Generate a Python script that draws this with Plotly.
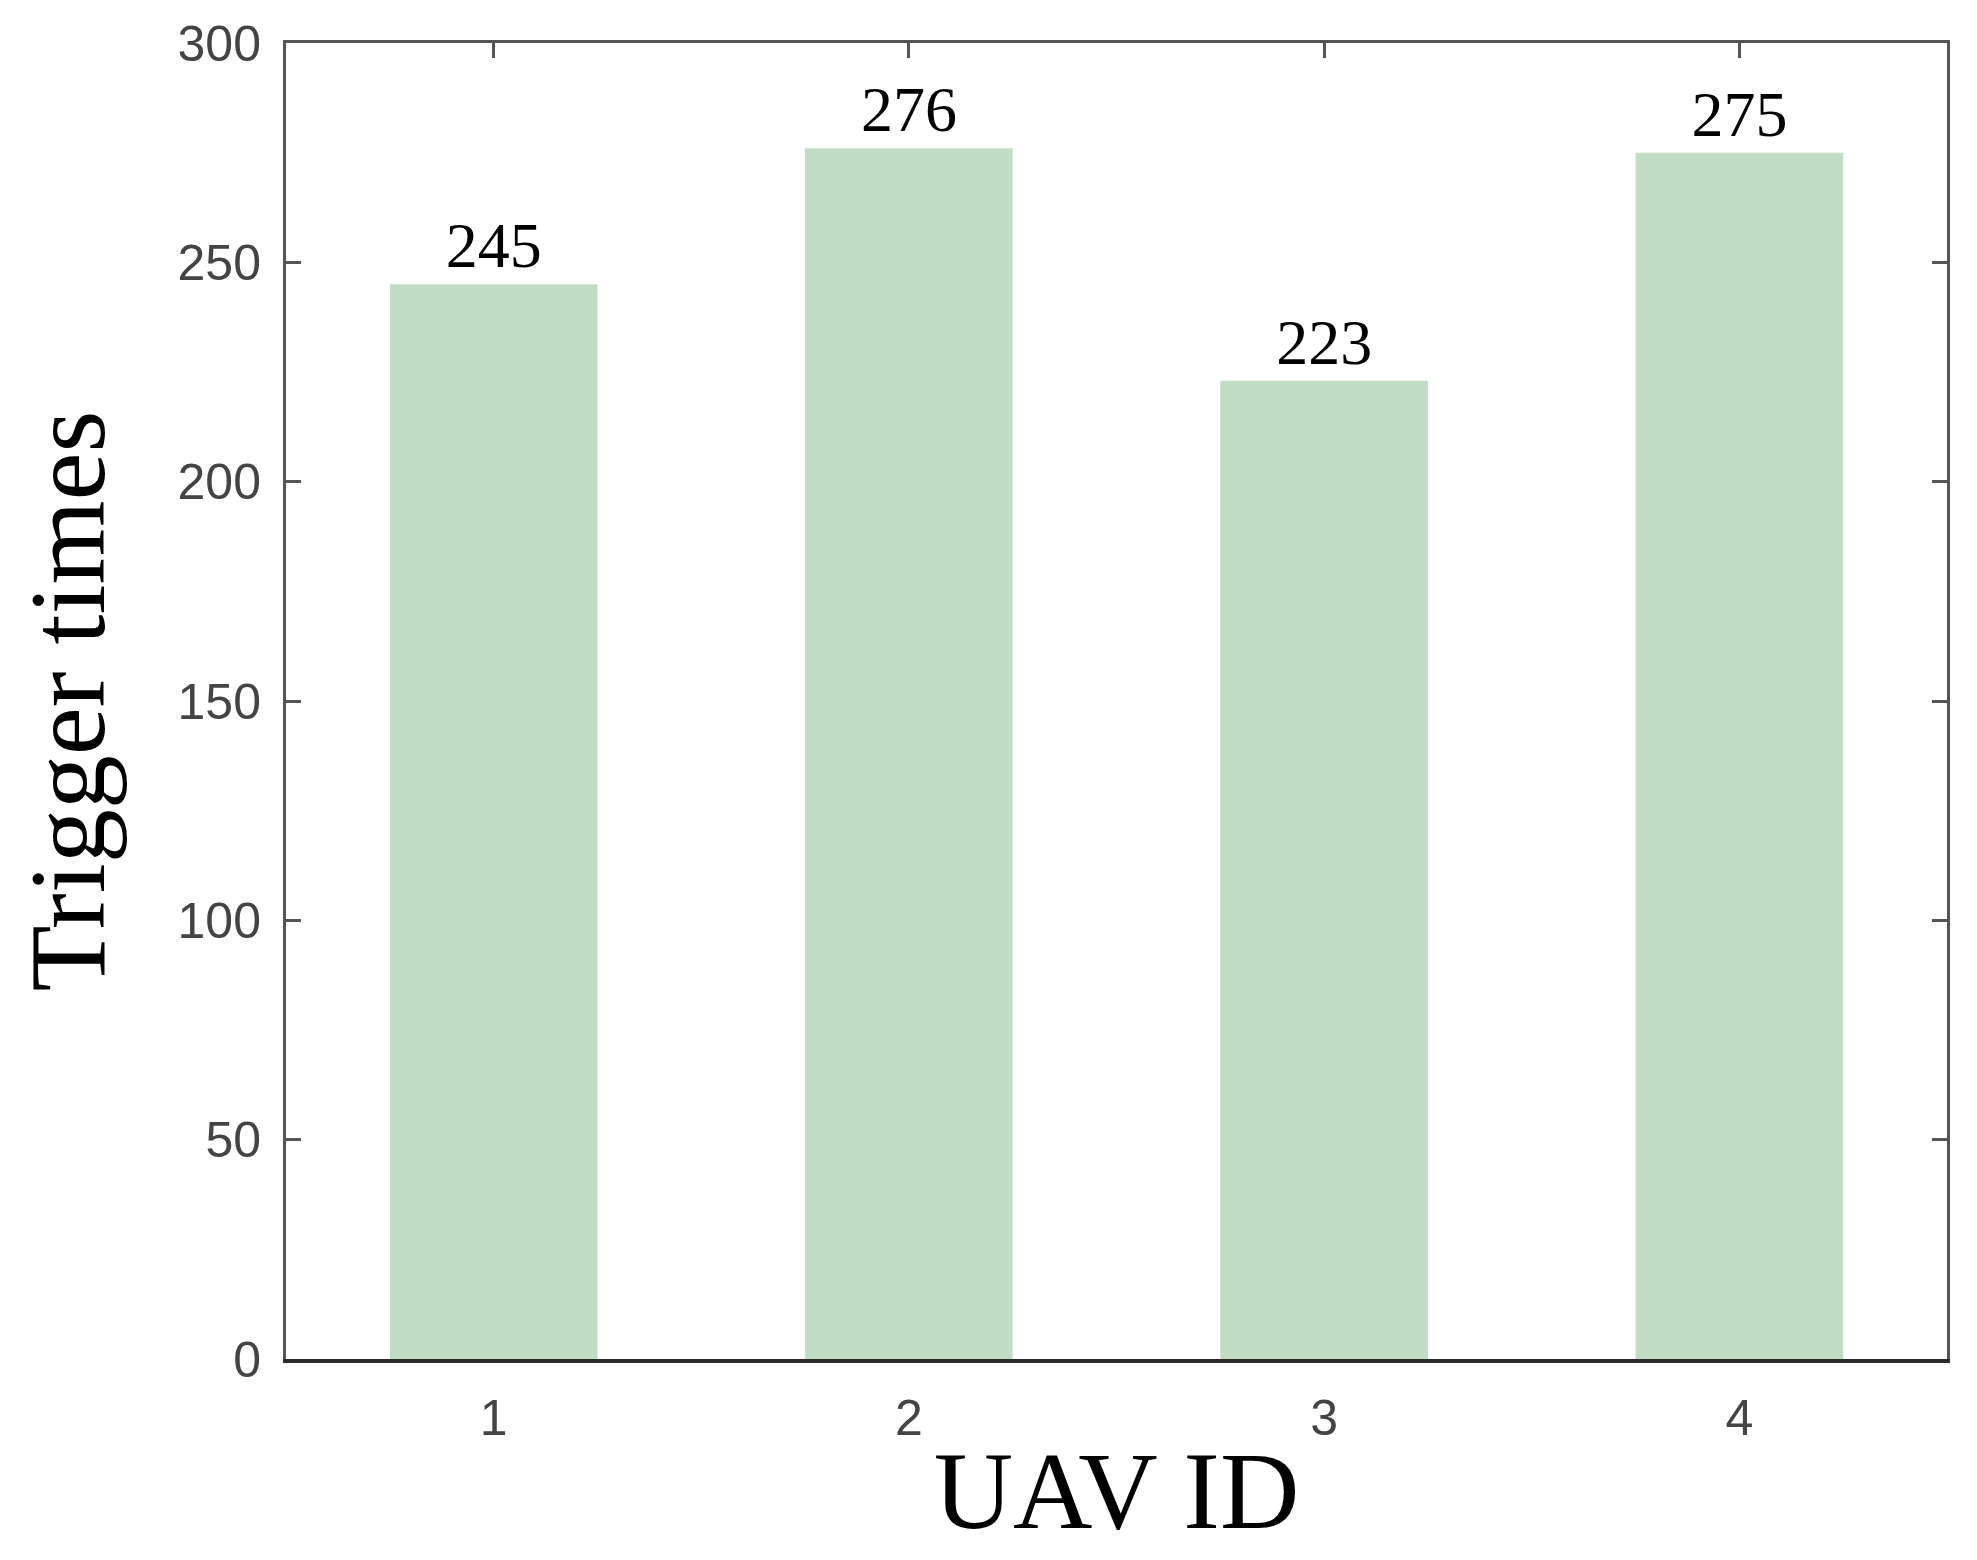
import plotly.graph_objects as go

uav_ids = [1, 2, 3, 4]
trigger_times = [245, 276, 223, 275]
y_ticks = [0, 50, 100, 150, 200, 250, 300]

bar_color = "#c2ddc6"

fig = go.Figure()
fig.add_trace(go.Bar(
    x=uav_ids, y=trigger_times, width=0.5,
    marker=dict(color=bar_color, line=dict(width=0)),
    text=[str(v) for v in trigger_times], textposition="outside",
    textfont=dict(family="Liberation Serif", size=64, color="black"),
    cliponaxis=False, showlegend=False, hoverinfo="skip",
))
# empty trace so that the top (mirror) axis is rendered
fig.add_trace(go.Scatter(x=[], y=[], xaxis="x2", showlegend=False, hoverinfo="skip"))

fig.update_layout(
    width=1961, height=1544,
    margin=dict(l=278, r=22, t=35, b=193, autoexpand=False),
    plot_bgcolor="white", paper_bgcolor="white",
    xaxis=dict(
        range=[0.5, 4.5], tickvals=uav_ids, ticktext=[str(v) for v in uav_ids],
        showline=True, linecolor="#2b2b2b", linewidth=4, mirror=False,
        ticks="",
        tickfont=dict(family="Liberation Sans", size=50, color="#444444"),
        ticklabelstandoff=12,
        showgrid=False, zeroline=False,
        title=dict(text="UAV ID", font=dict(family="Liberation Serif", size=110, color="black"), standoff=12),
        automargin=False,
    ),
    xaxis2=dict(
        overlaying="x", side="top", range=[0.5, 4.5], tickvals=uav_ids,
        showticklabels=False, showline=True, linecolor="#555555", linewidth=3,
        ticks="inside", ticklen=15, tickwidth=3, tickcolor="#555555",
        showgrid=False, zeroline=False,
    ),
    yaxis=dict(
        range=[0, 300], tickvals=y_ticks,
        showline=True, linecolor="#555555", linewidth=3, mirror="ticks",
        ticks="inside", ticklen=15, tickwidth=3, tickcolor="#555555",
        tickfont=dict(family="Liberation Sans", size=50, color="#444444"),
        ticklabelstandoff=12,
        showgrid=False, zeroline=False,
        title=dict(text="Trigger times", font=dict(family="Liberation Serif", size=108, color="black"), standoff=59),
        automargin=False,
    ),
)

fig.write_html("out.html")
